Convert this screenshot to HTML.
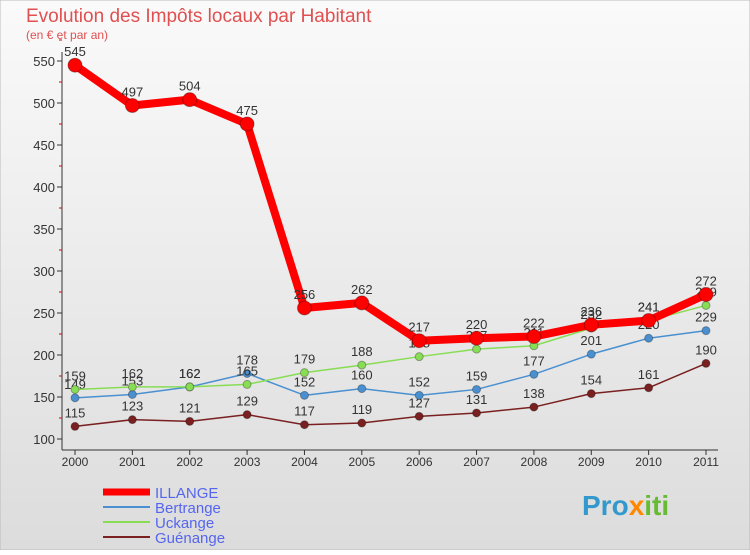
<!DOCTYPE html>
<html><head><meta charset="utf-8"><style>
body{margin:0;width:750px;height:550px;overflow:hidden;font-family:"Liberation Sans",sans-serif}
svg text{font-family:"Liberation Sans",sans-serif}
</style></head><body>
<svg width="750" height="550">
<defs><linearGradient id="bg" x1="0" y1="0" x2="0" y2="1"><stop offset="0" stop-color="#fafafa"/><stop offset="1" stop-color="#dcdcdc"/></linearGradient></defs>
<rect width="750" height="550" fill="url(#bg)" stroke="#bbb"/>
<text x="26" y="22" font-size="19" fill="#e05050">Evolution des Impôts locaux par Habitant</text>
<text x="26" y="39" font-size="12" fill="#e05050">(en € et par an)</text>
<g id="axes"></g><g id="series"></g>
<g>
<line x1="103" y1="492" x2="150" y2="492" stroke="#f00" stroke-width="7"/><text x="155" y="498" font-size="15" fill="#5566ee">ILLANGE</text>
<line x1="103" y1="507" x2="150" y2="507" stroke="#4a90d0" stroke-width="2"/><text x="155" y="513" font-size="15" fill="#5566ee">Bertrange</text>
<line x1="103" y1="522" x2="150" y2="522" stroke="#88dd55" stroke-width="2"/><text x="155" y="528" font-size="15" fill="#5566ee">Uckange</text>
<line x1="103" y1="537" x2="150" y2="537" stroke="#7a2020" stroke-width="2"/><text x="155" y="543" font-size="15" fill="#5566ee">Guénange</text>
</g>
<text x="582" y="515" font-size="28" font-weight="bold" fill="#3399cc">Pro<tspan fill="#ff8800">x</tspan><tspan fill="#66bb33">iti</tspan></text>
</svg>
<script>
const years=["2000","2001","2002","2003","2004","2005","2006","2007","2008","2009","2010","2011"];
const illange=[545,497,504,475,256,262,217,220,222,236,241,272];
const bertrange=[149,153,162,178,152,160,152,159,177,201,220,229];
const uckange=[159,162,162,165,179,188,198,207,211,232,241,259];
const guenange=[115,123,121,129,117,119,127,131,138,154,161,190];
const yTicks=[100,150,200,250,300,350,400,450,500,550];
const NS="http://www.w3.org/2000/svg";
const x=i=>75+i*(706-75)/11;
const y=v=>439-(v-100)*0.84;
function mk(t,a,p){const e=document.createElementNS(NS,t);for(const k in a)e.setAttribute(k,a[k]);p.appendChild(e);return e;}
const ax=document.getElementById('axes');
const yl=mk('line',{x1:62,y1:52,x2:62,y2:450,stroke:'#333'},ax);


const xl=mk('line',{x1:62,y1:450,x2:718,y2:450,stroke:'#333'},ax);


yTicks.forEach(v=>{mk('line',{x1:57,y1:y(v),x2:62,y2:y(v),stroke:'#333'},ax);
const t=mk('text',{x:55,y:y(v)+5,'font-size':13,'text-anchor':'end',fill:'#333'},ax);t.textContent=v;


mk('line',{x1:59,y1:y(v+25),x2:62,y2:y(v+25),stroke:'#d00'},ax);});
years.forEach((yr,i)=>{mk('line',{x1:x(i),y1:450,x2:x(i),y2:455,stroke:'#333'},ax);
const t=mk('text',{x:x(i),y:466,'font-size':12,'text-anchor':'middle',fill:'#333'},ax);t.textContent=yr;

});
const sg=document.getElementById('series');
function draw(data,color,w,r,name){const g=mk('g',{},sg);


mk('polyline',{points:data.map((v,i)=>x(i)+','+y(v)).join(' '),fill:'none',stroke:color,'stroke-width':w,'stroke-linejoin':'round'},g);
data.forEach((v,i)=>{const c=mk('circle',{cx:x(i),cy:y(v),r:r,fill:color,stroke:'rgba(0,0,0,0.3)'},g);


const t=mk('text',{x:x(i),y:y(v)-9,'font-size':13,'text-anchor':'middle',fill:'#333'},g);t.textContent=v;

});}
draw(guenange,'#7a2020',1.5,4,'series-guenange');
draw(bertrange,'#4a90d0',1.5,4,'series-bertrange');
draw(uckange,'#88dd55',1.5,4,'series-uckange');
draw(illange,'#f00',8,7,'series-illange');
</script>
</body></html>
